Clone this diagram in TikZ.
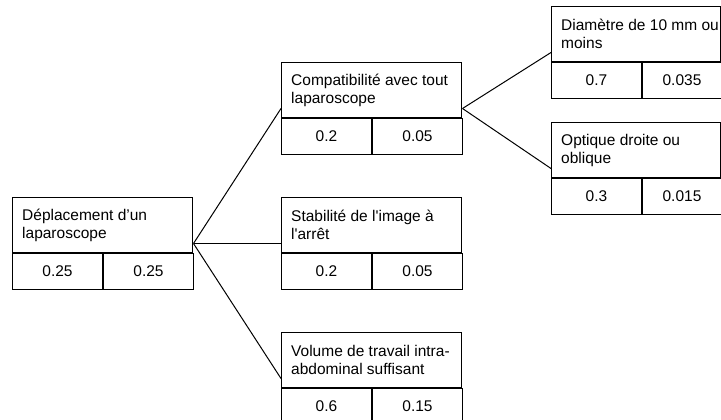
\documentclass[tikz,border=0pt]{standalone}
\usepackage{fontspec}
\setmainfont{Liberation Sans}
\usepackage{tikz}
\usetikzlibrary{calc}

\begin{document}
\begin{tikzpicture}[x=1pt,y=-1pt,
critbox/.style={rectangle,draw=black,line width=1pt,minimum width=180pt,minimum height=55pt,inner sep=0pt,anchor=north west},
crittext/.style={anchor=west,align=left,inner sep=0pt,font=\fontsize{15.5}{18}\selectfont},
valcell/.style={rectangle,draw=black,line width=1pt,minimum width=90pt,minimum height=36pt,inner sep=0pt,anchor=north west,font=\fontsize{15.5}{18}\selectfont},
branch/.style={black,line width=1pt}]

\clip (0,0) rectangle (721,420);

% root
\node (ROOT) at (12,197) [critbox] {};
\node (ROOTtxt) at ([xshift=10pt]ROOT.west) [crittext] {Déplacement d’un\\laparoscope};
\node (ROOTa) at (ROOT.south west) [valcell] {0.25};
\node (ROOTb) at (ROOTa.north east) [valcell] {0.25};

% second level
\node (COMP) at (281,62) [critbox] {};
\node (COMPtxt) at ([xshift=10pt]COMP.west) [crittext] {Compatibilité avec tout\\laparoscope};
\node (COMPa) at (COMP.south west) [valcell] {0.2};
\node (COMPb) at (COMPa.north east) [valcell] {0.05};

\node (STAB) at (281,197) [critbox] {};
\node (STABtxt) at ([xshift=10pt]STAB.west) [crittext] {Stabilité de l\textquotesingle image à\\l\textquotesingle arrêt};
\node (STABa) at (STAB.south west) [valcell] {0.2};
\node (STABb) at (STABa.north east) [valcell] {0.05};

\node (VOL) at (281,332) [critbox] {};
\node (VOLtxt) at ([xshift=10pt]VOL.west) [crittext] {Volume de travail intra-\\abdominal suffisant};
\node (VOLa) at (VOL.south west) [valcell] {0.6};
\node (VOLb) at (VOLa.north east) [valcell] {0.15};

% third level
\node (DIAM) at (551,6) [critbox,minimum width=169pt] {};
\node (DIAMtxt) at ([xshift=10pt]DIAM.west) [crittext] {Diamètre de 10 mm ou\\moins};
\node (DIAMa) at (DIAM.south west) [valcell] {0.7};
\node (DIAMb) at (DIAMa.north east) [valcell,minimum width=79pt] {0.035};

\node (OPT) at (551,122) [critbox,minimum width=169pt] {};
\node (OPTtxt) at ([xshift=10pt]OPT.west) [crittext] {Optique droite ou\\oblique};
\node (OPTa) at (OPT.south west) [valcell] {0.3};
\node (OPTb) at (OPTa.north east) [valcell,minimum width=79pt] {0.015};

% mid points of the box sides
\coordinate (ROOTe) at ($(ROOT.north east)!.5!(ROOTb.south east)$);
\coordinate (COMPw) at ($(COMP.north west)!.5!(COMPa.south west)$);
\coordinate (COMPe) at ($(COMP.north east)!.5!(COMPb.south east)$);
\coordinate (STABw) at ($(STAB.north west)!.5!(STABa.south west)$);
\coordinate (VOLw) at ($(VOL.north west)!.5!(VOLa.south west)$);
\coordinate (DIAMw) at ($(DIAM.north west)!.5!(DIAMa.south west)$);
\coordinate (OPTw) at ($(OPT.north west)!.5!(OPTa.south west)$);

\draw[branch] (ROOTe) -- (COMPw);
\draw[branch] (ROOTe) -- (STABw);
\draw[branch] (ROOTe) -- (VOLw);
\draw[branch] (COMPe) -- (DIAMw);
\draw[branch] (COMPe) -- (OPTw);

\end{tikzpicture}
\end{document}
